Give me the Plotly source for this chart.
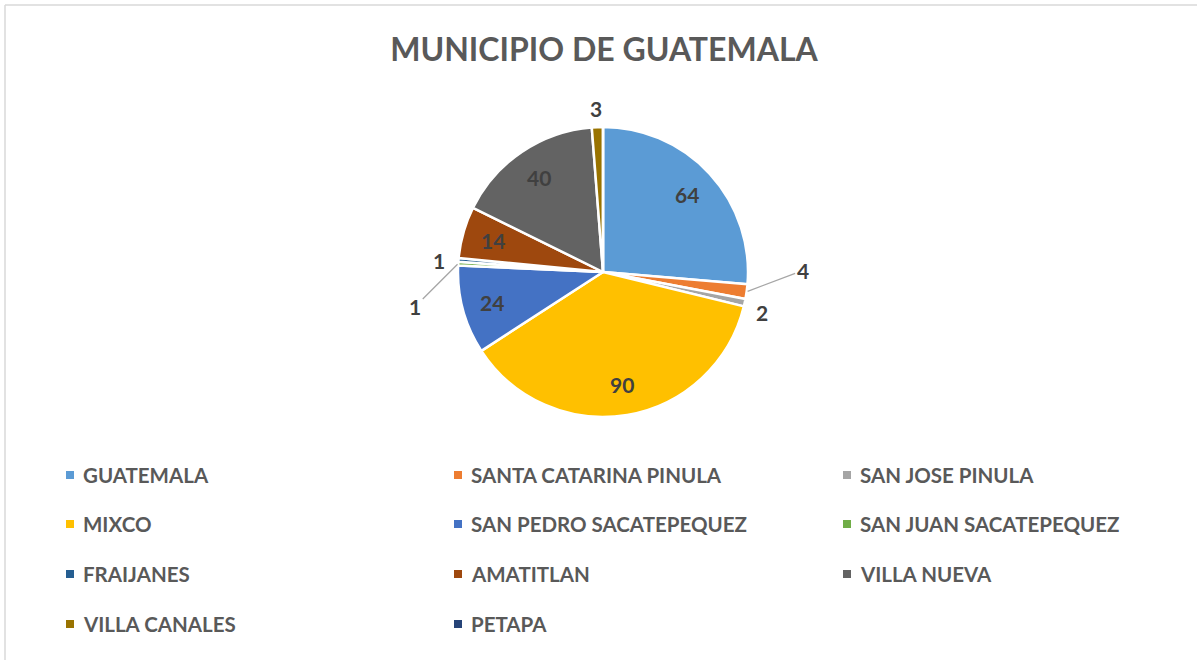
import math
import plotly.graph_objects as go

# Data
municipios = [
    "GUATEMALA",
    "SANTA CATARINA PINULA",
    "SAN JOSE PINULA",
    "MIXCO",
    "SAN PEDRO SACATEPEQUEZ",
    "SAN JUAN SACATEPEQUEZ",
    "FRAIJANES",
    "AMATITLAN",
    "VILLA NUEVA",
    "VILLA CANALES",
    "PETAPA",
]
cantidades = [64, 4, 2, 90, 24, 1, 1, 14, 40, 3, 0]
colores = [
    "#5B9BD5", "#ED7D31", "#A5A5A5", "#FFC000", "#4472C4", "#70AD47",
    "#255E91", "#9E480E", "#636363", "#997300", "#264478",
]

W, H = 1197, 660
FONT = "Lato"
GRIS = "#595959"
GRIS_OSC = "#404040"


def px(x):
    return x / W


def py(y):
    return (H - y) / H


# Pie geometry (screen pixels)
cx, cy, r = 603, 272, 145

fig = go.Figure(
    go.Pie(
        labels=municipios,
        values=cantidades,
        textinfo="none",
        sort=False,
        direction="clockwise",
        rotation=0,
        marker=dict(colors=colores, line=dict(color="white", width=2.5)),
        domain=dict(x=[px(cx - r), px(cx + r)], y=[py(cy + r), py(cy - r)]),
        showlegend=False,
        hoverinfo="label+value+percent",
    )
)

# Data labels placed like Excel's "best fit":
# big slices inside at ~0.79 r, small ones outside (offset in px, leader line or not)
fuera = {
    1: (56, -21, True),
    2: (17, 10, False),
    5: (-43, 43, True),
    6: (-20, 1, False),
    9: (-1, -19, False),
}
annotations = []
total = sum(cantidades)
acum = 0
fuente_dato = dict(family=FONT, size=21, color=GRIS_OSC, weight="bold")
for i, v in enumerate(cantidades):
    medio = (acum + v / 2) / total * 2 * math.pi
    acum += v
    if v == 0:
        continue
    if v >= 10:
        lx = cx + 0.79 * r * math.sin(medio)
        ly = cy - 0.79 * r * math.cos(medio)
        annotations.append(dict(
            text=str(v), xref="paper", yref="paper", x=px(lx), y=py(ly),
            xanchor="center", yanchor="middle", showarrow=False, font=fuente_dato,
        ))
        continue
    ex = cx + r * math.sin(medio)
    ey = cy - r * math.cos(medio)
    dx, dy, linea = fuera[i]
    if linea:
        annotations.append(dict(
            text=str(v), xref="paper", yref="paper", x=px(ex), y=py(ey),
            ax=dx, ay=dy, showarrow=True, arrowhead=0, arrowwidth=1.3,
            arrowcolor="#A6A6A6", standoff=1, font=fuente_dato,
        ))
    else:
        annotations.append(dict(
            text=str(v), xref="paper", yref="paper", x=px(ex), y=py(ey),
            xshift=dx, yshift=-dy, xanchor="center", yanchor="middle",
            showarrow=False, font=fuente_dato,
        ))

# Legend built as text + small squares in 3 columns
col_x = [66, 454, 843]
row_y = [475, 524, 574, 624]
shapes = []
for i, (nombre, color) in enumerate(zip(municipios, colores)):
    x = col_x[i % 3]
    y = row_y[i // 3]
    shapes.append(dict(
        type="rect", xref="paper", yref="paper",
        x0=px(x), x1=px(x + 8), y0=py(y + 4), y1=py(y - 4),
        fillcolor=color, line=dict(width=0),
    ))
    annotations.append(dict(
        text=nombre, xref="paper", yref="paper",
        x=px(x + 15), y=py(y),
        xanchor="left", yanchor="middle", showarrow=False,
        font=dict(family=FONT, size=20.5, color=GRIS, weight="bold"),
    ))

# chart border: only the top and left edges are inside the frame
borde = dict(color="#D9D9D9", width=1.5)
shapes.append(dict(type="line", xref="paper", yref="paper",
                   x0=px(5), x1=1, y0=py(5), y1=py(5), line=borde))
shapes.append(dict(type="line", xref="paper", yref="paper",
                   x0=px(5), x1=px(5), y0=0, y1=py(5), line=borde))

fig.update_layout(
    width=W,
    height=H,
    margin=dict(l=0, r=0, t=0, b=0),
    paper_bgcolor="white",
    plot_bgcolor="white",
    title=dict(
        text="MUNICIPIO DE GUATEMALA",
        x=px(604), xanchor="center",
        y=py(50), yanchor="middle",
        font=dict(family=FONT, size=32, color=GRIS, weight="bold"),
    ),
    shapes=shapes,
    annotations=annotations,
)

# drop the browser's default body margin / scrollbars so the chart fills the window
fig.write_html(
    "out.html",
    config={"displayModeBar": False},
    post_script="document.body.style.margin = '0'; document.body.style.overflow = 'hidden';",
)
